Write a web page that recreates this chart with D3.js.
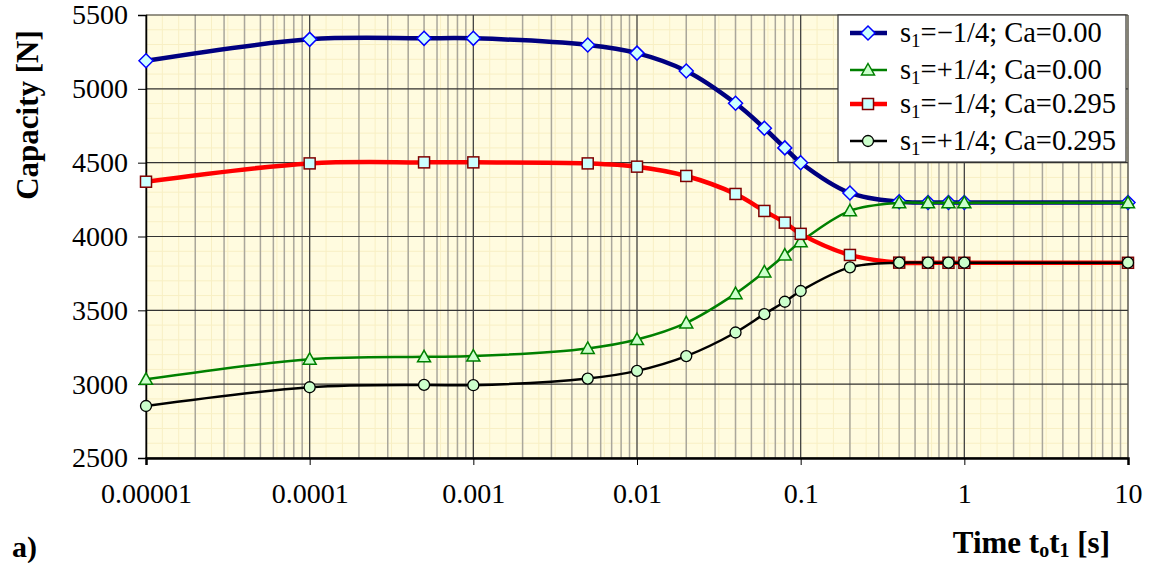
<!DOCTYPE html>
<html>
<head>
<meta charset="utf-8">
<script src="https://cdn.jsdelivr.net/npm/d3@7"></script>
<style>
  body { margin: 0; background: #fff; }
</style>
</head>
<body>
<div id="grafiek"></div>
<script>

// tijdstippen (s) waarop gemeten is
var tijden = [0.00001, 0.0001, 0.0005, 0.001, 0.005, 0.01, 0.02, 0.04, 0.06, 0.08,
              0.1, 0.2, 0.4, 0.6, 0.8, 1, 10];

// capaciteit [N] per reeks
var blauw = [5190, 5335, 5342, 5342, 5297, 5242, 5121, 4902, 4733, 4600,
             4500, 4295, 4235, 4230, 4230, 4230, 4230];
var groen = [3033, 3168, 3185, 3190, 3242, 3302, 3415, 3613, 3760, 3874,
             3964, 4174, 4228, 4228, 4228, 4228, 4228];
var rood  = [4371, 4495, 4502, 4502, 4495, 4473, 4410, 4288, 4173, 4094,
             4018, 3875, 3823, 3822, 3822, 3822, 3822];
var zwart = [2852, 2979, 2995, 2993, 3038, 3090, 3190, 3350, 3474, 3558,
             3631, 3791, 3823, 3823, 3823, 3823, 3823];

var legendaTeksten = ["=\u22121/4; Ca=0.00", "=+1/4; Ca=0.00",
                      "=\u22121/4; Ca=0.295", "=+1/4; Ca=0.295"];

var yTicks = [2500, 3000, 3500, 4000, 4500, 5000, 5500];
var xTicks = [0.00001, 0.0001, 0.001, 0.01, 0.1, 1, 10];
var xTickLabels = ["0.00001", "0.0001", "0.001", "0.01", "0.1", "1", "10"];

var lettertype = "Liberation Serif";

var breedte = 1152, hoogte = 563;
var marge = {boven: 15, beneden: 105, links: 146, rechts: 24};

var svg = d3.select("#grafiek")
            .append("svg")
            .attr("width", breedte)
            .attr("height", hoogte)
            .attr("font-family", lettertype);

var x = d3.scaleLog()
          .domain([0.00001, 10])
          .range([marge.links, breedte - marge.rechts]);

var y = d3.scaleLinear()
          .domain([2500, 5500])
          .range([hoogte - marge.beneden, marge.boven]);

// achtergrond van het plotvlak
svg.append("rect")
   .attr("x", x(0.00001))
   .attr("y", y(5500))
   .attr("width", x(10) - x(0.00001))
   .attr("height", y(2500) - y(5500))
   .attr("fill", "#fffbdf");

// fijn raster (licht geel)
var fijnH = d3.range(2500, 5501, 100);
svg.append("g").selectAll("line")
   .data(fijnH)
   .enter().append("line")
   .attr("x1", x(0.00001)).attr("x2", x(10))
   .attr("y1", function(d) { return y(d); })
   .attr("y2", function(d) { return y(d); })
   .attr("stroke", "#f8efc4")
   .attr("stroke-width", 1);

var fijnV = d3.range(0, 61).map(function(i) { return Math.pow(10, -5 + i / 10); });
svg.append("g").selectAll("line")
   .data(fijnV)
   .enter().append("line")
   .attr("x1", function(d) { return x(d); })
   .attr("x2", function(d) { return x(d); })
   .attr("y1", y(5500)).attr("y2", y(2500))
   .attr("stroke", "#f8efc4")
   .attr("stroke-width", 1);

// minor verticale lijnen (2..9 per decade)
var minor = [];
for (var e = -5; e < 1; e++) {
  for (var m = 2; m <= 9; m++) {
    minor.push(m * Math.pow(10, e));
  }
}
svg.append("g").selectAll("line")
   .data(minor)
   .enter().append("line")
   .attr("x1", function(d) { return x(d); })
   .attr("x2", function(d) { return x(d); })
   .attr("y1", y(5500)).attr("y2", y(2500))
   .attr("stroke", "#aaa79c")
   .attr("stroke-width", 1.5);

// hoofdraster
svg.append("g").selectAll("line")
   .data(yTicks)
   .enter().append("line")
   .attr("x1", x(0.00001)).attr("x2", x(10))
   .attr("y1", function(d) { return y(d); })
   .attr("y2", function(d) { return y(d); })
   .attr("stroke", "#333")
   .attr("stroke-width", 1.2);

svg.append("g").selectAll("line")
   .data(xTicks)
   .enter().append("line")
   .attr("x1", function(d) { return x(d); })
   .attr("x2", function(d) { return x(d); })
   .attr("y1", y(5500)).attr("y2", y(2500))
   .attr("stroke", "#444")
   .attr("stroke-width", 1.3);

// assen
var yAs = d3.axisLeft(y)
            .tickValues(yTicks)
            .tickSize(8)
            .tickPadding(10)
            .tickFormat(d3.format("d"));
var gy = svg.append("g")
            .attr("transform", "translate(" + x(0.00001) + ",0)")
            .call(yAs)
            .attr("font-family", lettertype)
            .attr("font-size", 28);
gy.select(".domain").attr("stroke", "#000").attr("stroke-width", 1.5);
gy.selectAll("text").attr("fill", "#000");

var xAs = d3.axisBottom(x)
            .tickValues(xTicks)
            .tickSize(7)
            .tickFormat(function(d, i) { return xTickLabels[i]; });
var gx = svg.append("g")
            .attr("transform", "translate(0," + y(2500) + ")")
            .call(xAs)
            .attr("font-family", lettertype)
            .attr("font-size", 28);
gx.select(".domain").attr("stroke", "#000").attr("stroke-width", 2.5);
gx.selectAll("text").attr("fill", "#000").attr("y", 45).attr("dy", 0);

// lijnen en markers
var lijn = d3.line()
             .x(function(d) { return x(d.t); })
             .y(function(d) { return y(d.v); })
             .curve(d3.curveCatmullRom.alpha(0.5));

var reeksen = [
  {waarden: blauw, kleur: "#000080", dikte: 4.5, vorm: "diamant",  vul: "#ccffff", rand: "#0000ff"},
  {waarden: groen, kleur: "#008000", dikte: 2.5, vorm: "driehoek", vul: "#ccffcc", rand: "#008000"},
  {waarden: rood,  kleur: "#ff0000", dikte: 4.5, vorm: "vierkant", vul: "#ccffff", rand: "#800000"},
  {waarden: zwart, kleur: "#000000", dikte: 2.5, vorm: "cirkel",   vul: "#ccffcc", rand: "#000000"}
];

function tekenMarker(g, r, cx, cy) {
  if (r.vorm == "diamant") {
    g.append("path")
     .attr("d", "M" + cx + "," + (cy - 7) + "L" + (cx + 7) + "," + cy +
                "L" + cx + "," + (cy + 7) + "L" + (cx - 7) + "," + cy + "Z")
     .attr("fill", r.vul).attr("stroke", r.rand).attr("stroke-width", 1.5);
  } else if (r.vorm == "driehoek") {
    g.append("path")
     .attr("d", "M" + cx + "," + (cy - 6.5) + "L" + (cx + 6.5) + "," + (cy + 5) +
                "L" + (cx - 6.5) + "," + (cy + 5) + "Z")
     .attr("fill", r.vul).attr("stroke", r.rand).attr("stroke-width", 1.5);
  } else if (r.vorm == "vierkant") {
    g.append("rect")
     .attr("x", cx - 5.5).attr("y", cy - 5.5)
     .attr("width", 11).attr("height", 11)
     .attr("fill", r.vul).attr("stroke", r.rand).attr("stroke-width", 1.5);
  } else {
    g.append("circle")
     .attr("cx", cx).attr("cy", cy).attr("r", 5.5)
     .attr("fill", r.vul).attr("stroke", r.rand).attr("stroke-width", 1.3);
  }
}

reeksen.forEach(function(r) {
  var punten = tijden.map(function(t, i) { return {t: t, v: r.waarden[i]}; });
  var g = svg.append("g");
  g.append("path")
   .datum(punten)
   .attr("d", lijn)
   .attr("fill", "none")
   .attr("stroke", r.kleur)
   .attr("stroke-width", r.dikte)
   .attr("stroke-linejoin", "round");
  punten.forEach(function(p) {
    tekenMarker(g, r, x(p.t), y(p.v));
  });
});

// legenda
var legenda = svg.append("g");
legenda.append("rect")
       .attr("x", 838).attr("y", 15)
       .attr("width", 288).attr("height", 147)
       .attr("fill", "#fff")
       .attr("stroke", "#333")
       .attr("stroke-width", 1.2);

var legY = [33, 70, 104, 141];
reeksen.forEach(function(r, i) {
  var ly = legY[i];
  legenda.append("line")
         .attr("x1", 850).attr("x2", 887)
         .attr("y1", ly).attr("y2", ly)
         .attr("stroke", r.kleur)
         .attr("stroke-width", r.dikte);
  tekenMarker(legenda, r, 868, ly);
  var t = legenda.append("text")
                 .attr("x", 900)
                 .attr("y", ly + 9)
                 .attr("font-size", 28.5);
  t.append("tspan").text("s");
  t.append("tspan").attr("dy", 5).attr("font-size", 19).text("1");
  t.append("tspan").attr("dy", -5).text(legendaTeksten[i]);
});

// astitels
svg.append("text")
   .attr("transform", "translate(38,115) rotate(-90)")
   .attr("text-anchor", "middle")
   .attr("font-size", 31)
   .attr("font-weight", "bold")
   .text("Capacity [N]");

var xt = svg.append("text")
            .attr("x", 1110)
            .attr("y", 553)
            .attr("text-anchor", "end")
            .attr("font-size", 31)
            .attr("font-weight", "bold");
xt.append("tspan").text("Time t");
xt.append("tspan").attr("dy", 4).attr("font-size", 20).text("o");
xt.append("tspan").attr("dy", -4).text("t");
xt.append("tspan").attr("dy", 4).attr("font-size", 20).text("1");
xt.append("tspan").attr("dy", -4).text(" [s]");

svg.append("text")
   .attr("x", 12)
   .attr("y", 557)
   .attr("font-size", 30)
   .attr("font-weight", "bold")
   .text("a)");

</script>
</body>
</html>
